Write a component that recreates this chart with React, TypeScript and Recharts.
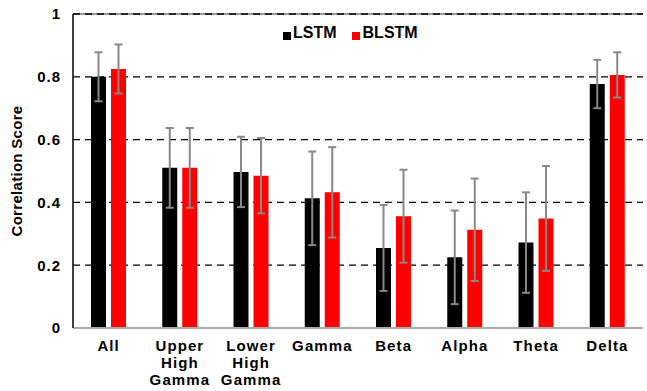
import React from 'react';
import { BarChart, Bar, XAxis, YAxis, CartesianGrid, ErrorBar, ReferenceLine } from 'recharts';

const bands = ['All', 'Upper High Gamma', 'Lower High Gamma', 'Gamma', 'Beta', 'Alpha', 'Theta', 'Delta'];
const lstm = [0.8, 0.51, 0.497, 0.413, 0.255, 0.225, 0.272, 0.777];
const blstm = [0.825, 0.51, 0.485, 0.432, 0.356, 0.313, 0.349, 0.806];
const lstmErr = [0.078, 0.127, 0.112, 0.149, 0.137, 0.149, 0.16, 0.077];
const blstmErr = [0.078, 0.127, 0.12, 0.144, 0.148, 0.163, 0.167, 0.072];
const yTicks = [0, 0.2, 0.4, 0.6, 0.8, 1];

const FONT = '"Liberation Sans", Arial, sans-serif';

const data = bands.map((band, i) => ({
  band,
  lstm: lstm[i],
  blstm: blstm[i],
  lstmErr: lstmErr[i],
  blstmErr: blstmErr[i],
}));

// splits long band names onto several lines like the original
const BandTick = ({ x, y, payload }: any) => {
  const words: string[] = payload.value.split(' ');
  return (
    <text x={x} y={y} textAnchor="middle" fontFamily={FONT} fontWeight="bold" fontSize={15} letterSpacing={1.1} fill="#000">
      {words.map((w, i) => (
        <tspan key={i} x={x} dy={i === 0 ? 15 : 17}>
          {w}
        </tspan>
      ))}
    </text>
  );
};

const legendItem = { display: 'flex', alignItems: 'flex-start' } as const;

const App = () => {
  return (
    <div style={{ position: 'absolute', left: 0, top: 0, width: 647, height: 391, background: '#fff' }}>
      <BarChart
        width={647}
        height={391}
        data={data}
        margin={{ top: 14, right: 4, left: 13, bottom: 0 }}
        barSize={15}
        barGap={5}
      >
        <CartesianGrid vertical={false} stroke="#000" strokeDasharray="7 5" strokeWidth={1.3} />
        <XAxis
          dataKey="band"
          interval={0}
          height={63}
          tick={<BandTick />}
          tickLine={false}
          axisLine={{ stroke: '#aaa', strokeWidth: 2 }}
        />
        <YAxis
          width={60}
          domain={[0, 1]}
          ticks={yTicks}
          tickFormatter={(v: number) => String(v)}
          tick={{ fill: '#000', fontFamily: FONT, fontWeight: 'bold', fontSize: 15, letterSpacing: 1 }}
          tickLine={false}
          tickSize={0}
          tickMargin={12}
          axisLine={{ stroke: '#000', strokeWidth: 1.5 }}
          label={{
            value: 'Correlation Score',
            angle: -90,
            position: 'insideLeft',
            offset: 4,
            style: { textAnchor: 'middle', fontFamily: FONT, fontWeight: 'bold', fontSize: 15, letterSpacing: 0.3, fill: '#000' },
          }}
        />
        {/* plot border on top: grey line under the black dashes */}
        <ReferenceLine y={1} stroke="#999" strokeWidth={2} />
        <ReferenceLine y={1} stroke="#000" strokeWidth={1.3} strokeDasharray="7 5" />
        <Bar dataKey="lstm" name="LSTM" fill="#000" isAnimationActive={false}>
          <ErrorBar dataKey="lstmErr" width={4} stroke="#888" strokeWidth={2} />
        </Bar>
        <Bar dataKey="blstm" name="BLSTM" fill="#ff0000" isAnimationActive={false}>
          <ErrorBar dataKey="blstmErr" width={4} stroke="#888" strokeWidth={2} />
        </Bar>
      </BarChart>
      <div
        style={{
          position: 'absolute',
          top: 24,
          left: 283,
          display: 'flex',
          gap: 15,
          fontFamily: FONT,
          fontWeight: 'bold',
          fontSize: 16,
          lineHeight: '18px',
          color: '#000',
        }}
      >
        <span style={legendItem}>
          <span style={{ width: 8, height: 8, marginTop: 8, background: '#000', marginRight: 2 }} />
          LSTM
        </span>
        <span style={legendItem}>
          <span style={{ width: 8, height: 8, marginTop: 8, background: '#ff0000', marginRight: 3 }} />
          BLSTM
        </span>
      </div>
    </div>
  );
};

export default App;
